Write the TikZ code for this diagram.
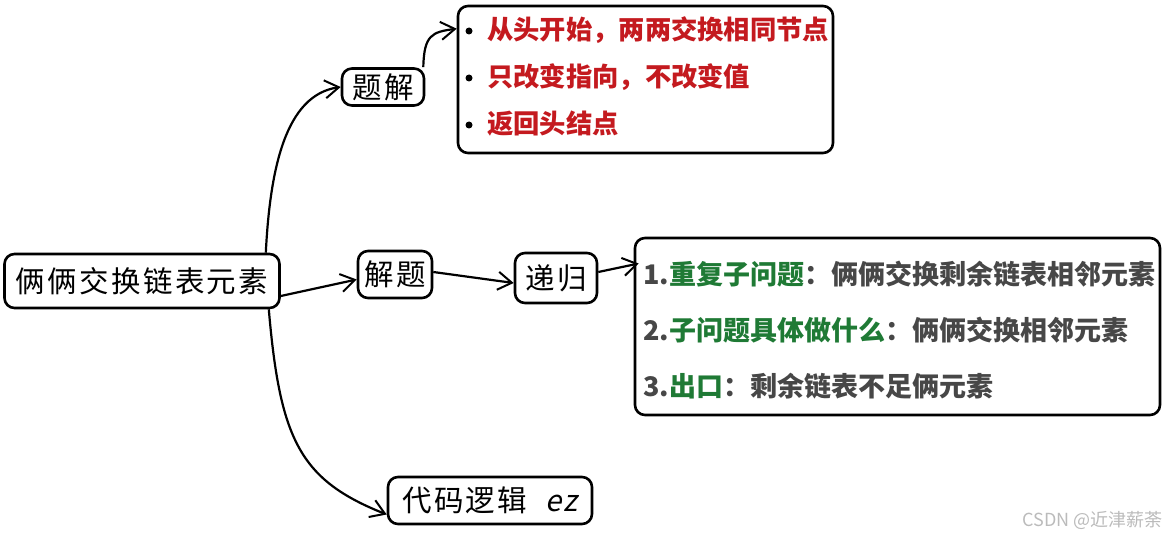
\documentclass[tikz,border=0pt]{standalone}
\usepackage{fontspec}
\setmainfont{Noto Sans CJK SC}
\newfontfamily\cjk{Noto Sans CJK SC}
\newfontfamily\handfont{Noto Sans CJK SC}[LetterSpace=8]
\newfontfamily\slantfont{Noto Sans CJK SC}[FakeSlant=0.2,LetterSpace=8]
\usetikzlibrary{arrows.meta}
\definecolor{redtxt}{HTML}{C41A1F}
\definecolor{greentxt}{HTML}{1F7A35}
\definecolor{graytxt}{HTML}{474747}
\definecolor{wm}{HTML}{BBBBBB}
\begin{document}
\begin{tikzpicture}[x=1pt,y=-1pt,
  box/.style={draw=black,line width=2.6pt,rounded corners=10pt,inner sep=0pt,fill=white},
  hand/.style={font=\handfont\fontsize{29.5}{32}\selectfont},
  conn/.style={line width=2.2pt,-{Straight Barb[length=14pt,width=18pt,line width=2pt]}},
  redline/.style={anchor=west,text=redtxt,font=\cjk\bfseries\fontsize{26.3}{28}\selectfont,inner sep=0pt},
  greenline/.style={anchor=west,text=graytxt,font=\cjk\bfseries\fontsize{27}{30}\selectfont,inner sep=0pt},
  bul/.style={circle,fill=black,inner sep=0pt,minimum size=7pt}]
\useasboundingbox (0,0) rectangle (1172,540);
% nodes
\node[box,hand,minimum width=275pt,minimum height=54pt] (main) at (142,281) {俩俩交换链表元素};
\node[box,hand,minimum width=82pt,minimum height=37pt] (tijie) at (383,87) {题解};
\node[box,minimum width=375pt,minimum height=147pt] (red) at (645.5,79.5) {};
\node[box,hand,minimum width=74pt,minimum height=47pt] (jieti) at (395,274.5) {解题};
\node[box,hand,minimum width=82pt,minimum height=50pt] (digui) at (556,278) {递归};
\node[box,minimum width=525pt,minimum height=177pt] (green) at (897.5,326.5) {};
\node[box,hand,minimum width=204pt,minimum height=47pt] (code) at (490,500.5) {代码逻辑\hspace{0.6em}{\slantfont ez}};
% red items
\node[bul] (b1) at (469,31) {};
\node[bul] (b2) at (469,78) {};
\node[bul] (b3) at (469,125) {};
\node[redline] (r1) at (487,30) {从头开始，两两交换相同节点};
\node[redline] (r2) at (487,77) {只改变指向，不改变值};
\node[redline] (r3) at (487,124) {返回头结点};
% green items
\node[greenline] (g1) at (643,274) {1.\textcolor{greentxt}{重复子问题}：俩俩交换剩余链表相邻元素};
\node[greenline] (g2) at (643,330) {2.\textcolor{greentxt}{子问题具体做什么}：俩俩交换相邻元素};
\node[greenline] (g3) at (643,386) {3.\textcolor{greentxt}{出口}：剩余链表不足俩元素};
% watermark
\node[anchor=east,text=wm,font=\cjk\fontsize{18}{20}\selectfont] (wmk) at (1166,520) {CSDN @近津薪荼};
% connectors
\coordinate (m1) at ([xshift=-15pt]main.north east);
\coordinate (m2) at ([xshift=-12pt]main.south east);
\coordinate (m3) at ([yshift=-15pt]main.east);
\coordinate (t1) at ([xshift=-2pt]tijie.north east);
\coordinate (rw) at ([yshift=-24pt]red.north west);
\coordinate (cw) at ([yshift=-14pt]code.west);
\coordinate (jw) at ([yshift=-5pt]jieti.west);
\coordinate (je) at ([yshift=2.5pt]jieti.east);
\coordinate (dw) at ([yshift=-5pt]digui.west);
\coordinate (de) at ([yshift=6pt]digui.east);
\coordinate (gw) at ([yshift=63pt,xshift=5pt]green.west);
\draw[conn] (m1) .. controls (270,170) and (285,95) .. (tijie.west);
\draw[conn] (t1) .. controls (424,35) and (432,32) .. (rw);
\draw[conn] (m3) -- (jw);
\draw[conn] (je) -- (dw);
\draw[conn] (de) -- (gw);
\draw[conn] (m2) .. controls (280,440) and (300,480) .. (cw);
\end{tikzpicture}
\end{document}
